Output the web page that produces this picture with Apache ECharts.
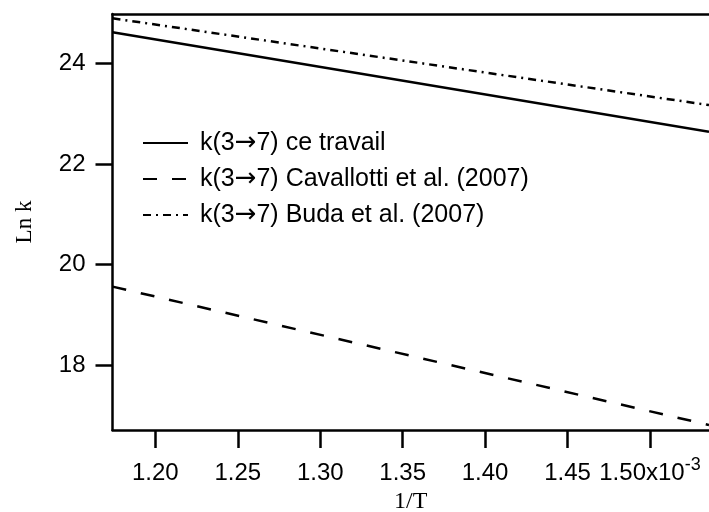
<!DOCTYPE html>
<html>
<head>
<meta charset="utf-8">
<script src="https://cdn.jsdelivr.net/npm/echarts@6/dist/echarts.min.js"></script>
<style>html,body{margin:0;padding:0;background:#fff;overflow:hidden}#c{width:709px;height:512px}</style>
</head>
<body>
<div id="c"></div>
<script>
// 1/T (x10^-3)
var invT = [1.174, 1.5358];
// Ln k series
var lnkCeTravail = [24.616, 22.641];
var lnkCavallotti = [19.563, 16.814];
var lnkBuda = [24.894, 23.171];
var seriesNames = ['k(3\u21927) ce travail', 'k(3\u21927) Cavallotti et al. (2007)', 'k(3\u21927) Buda et al. (2007)'];
var xTicks = [1.20, 1.25, 1.30, 1.35, 1.40, 1.45, 1.50];
var yTicks = [18, 20, 22, 24];

function pairs(xs, ys) { return xs.map(function (x, i) { return [x, ys[i]]; }); }

var chart = echarts.init(document.getElementById('c'), null, {renderer: 'canvas'});
var font = 'Liberation Sans, Arial, Helvetica, sans-serif';
var serif = 'Liberation Serif, Times New Roman, serif';
chart.setOption({
  animation: false,
  backgroundColor: '#fff',
  grid: {left: 112.5, right: 0, top: 14, bottom: 82, containLabel: false, outerBoundsMode: 'none'},
  legend: {
    orient: 'vertical', left: 137, top: 124,
    itemWidth: 45, itemHeight: 14, itemGap: 8,
    textStyle: {
      fontFamily: font, fontSize: 25, color: '#000', lineHeight: 28,
      rich: {ar: {fontFamily: 'DejaVu Sans', fontSize: 26, lineHeight: 28, color: '#000'}}
    },
    formatter: function (name) { return ' ' + name.replace('\u2192', '{ar|\u2192}'); },
    itemStyle: {opacity: 0},
    data: seriesNames
  },
  xAxis: [{
    type: 'value', min: invT[0], max: invT[1], position: 'bottom',
    name: '1/T', nameLocation: 'middle', nameGap: 60,
    nameTextStyle: {fontFamily: serif, fontSize: 24, color: '#000'},
    axisLine: {show: true, onZero: false, lineStyle: {color: '#000', width: 2.5}},
    axisTick: {show: true, inside: false, length: 18, customValues: xTicks, lineStyle: {color: '#000', width: 2.5}},
    axisLabel: {
      customValues: xTicks, margin: 26, color: '#000', fontFamily: font, fontSize: 24,
      formatter: function (v) {
        var s = v.toFixed(2);
        if (Math.abs(v - 1.5) < 1e-9) return '{a|' + s + 'x10}{s|-3}';
        return '{a|' + s + '}';
      },
      rich: {
        a: {fontFamily: font, fontSize: 24, lineHeight: 34, color: '#000'},
        s: {fontFamily: font, fontSize: 18, lineHeight: 14, verticalAlign: 'top', color: '#000'}
      }
    },
    splitLine: {show: false}
  }, {
    type: 'value', min: invT[0], max: invT[1], position: 'top',
    axisLine: {show: true, onZero: false, lineStyle: {color: '#000', width: 2.5}},
    axisTick: {show: false}, axisLabel: {show: false}, splitLine: {show: false}
  }],
  yAxis: {
    type: 'value', min: 16.714, max: 24.98,
    name: 'Ln k', nameLocation: 'middle', nameGap: 76, nameRotate: 90,
    nameTextStyle: {fontFamily: serif, fontSize: 23, color: '#000'},
    axisLine: {show: true, onZero: false, lineStyle: {color: '#000', width: 2.5}},
    axisTick: {show: true, length: 17, customValues: yTicks, lineStyle: {color: '#000', width: 2.5}},
    axisLabel: {customValues: yTicks, margin: 27, color: '#000', fontFamily: font, fontSize: 24},
    splitLine: {show: false}
  },
  series: [
    {name: seriesNames[0], type: 'line', data: pairs(invT, lnkCeTravail), symbol: 'none', color: '#000',
     lineStyle: {color: '#000', width: 2.5, type: 'solid'}},
    {name: seriesNames[1], type: 'line', data: pairs(invT, lnkCavallotti), symbol: 'none', color: '#000',
     lineStyle: {color: '#000', width: 2.5, type: [14, 15]}},
    {name: seriesNames[2], type: 'line', data: pairs(invT, lnkBuda), symbol: 'none', color: '#000',
     lineStyle: {color: '#000', width: 2.5, type: [8, 5, 2, 5]}}
  ]
});
</script>
</body>
</html>
